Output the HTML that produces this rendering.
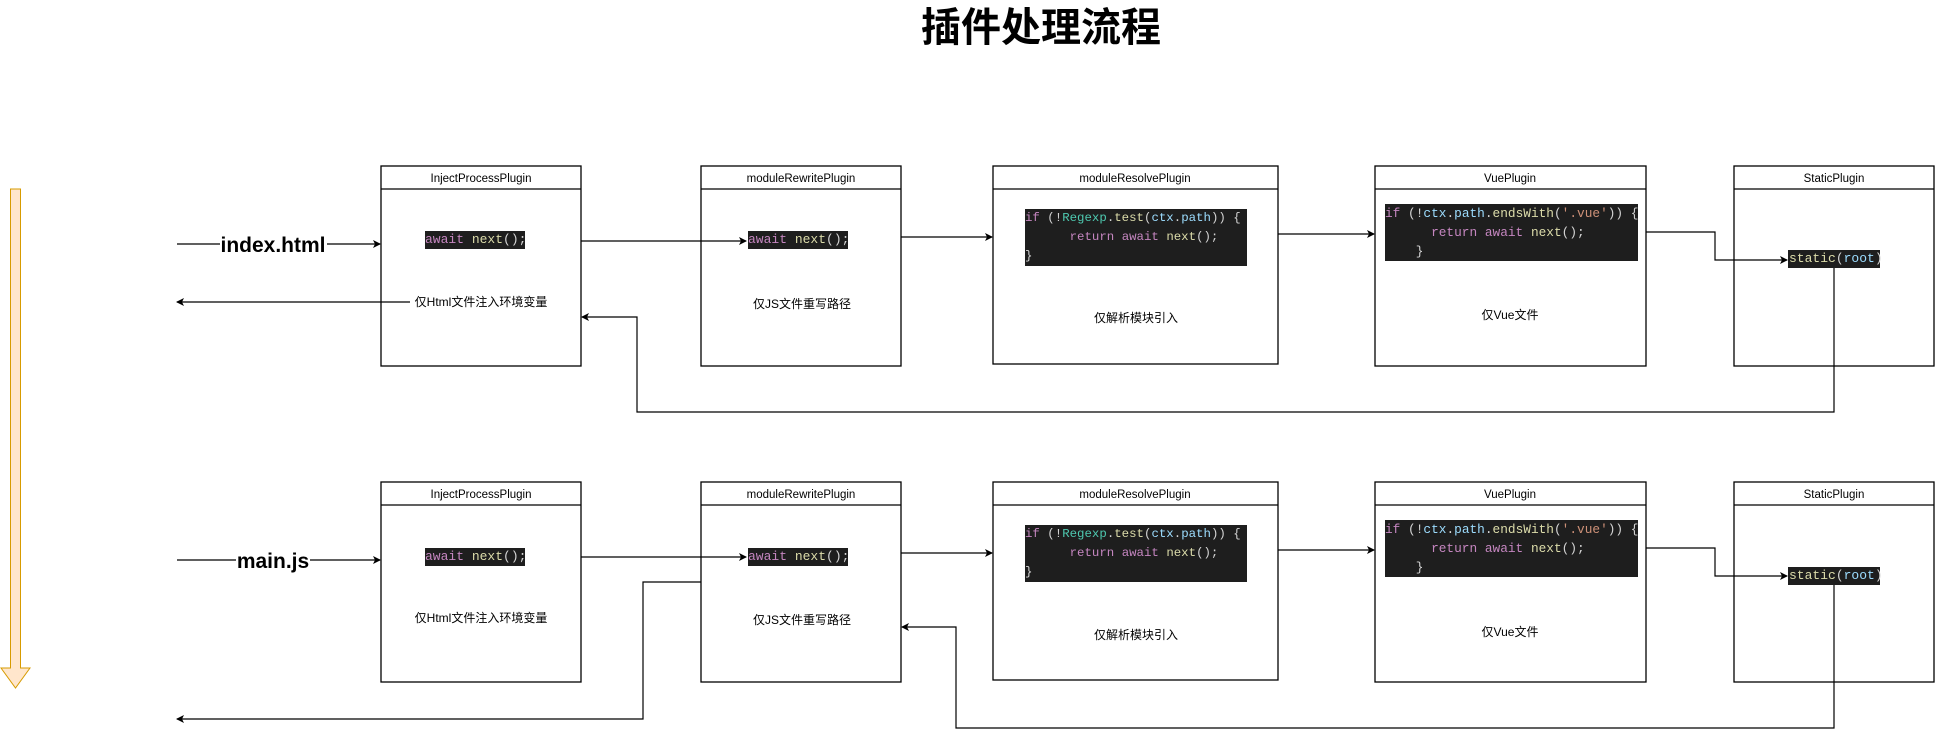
<!DOCTYPE html>
<html><head><meta charset="utf-8"><style>
body{margin:0;width:1937px;height:738px;background:#fff;position:relative;overflow:hidden;font-family:"Liberation Sans","Noto Sans CJK SC",sans-serif}
.code{position:absolute;background:#1e1e1e;color:#d4d4d4;font-family:"Liberation Mono","DejaVu Sans Mono",monospace;font-size:13px;white-space:pre;line-height:19px;box-sizing:border-box}
.k{color:#c586c0}.f{color:#dcdcaa}.v{color:#9cdcfe}.c{color:#4ec9b0}.s{color:#ce9178}
svg{position:absolute;left:0;top:0}
</style></head><body>
<svg width="1937" height="738" xmlns="http://www.w3.org/2000/svg">
<defs><marker id="a" markerWidth="8" markerHeight="8" refX="7" refY="4" orient="auto" markerUnits="userSpaceOnUse"><path d="M0,0 L8,4 L0,8 L2,4z" fill="#000"/></marker></defs>
<text x="1041" y="41" text-anchor="middle" font-size="40" font-weight="bold" font-family="Liberation Sans,Noto Sans CJK SC,sans-serif">插件处理流程</text>
<path d="M10.5,189 H20.5 V668 H30 L15.5,688 L1,668 H10.5 Z" fill="#ffe6cc" stroke="#d79b00" stroke-width="1"/>
<g fill="#fff" stroke="#000" stroke-width="1.3">
<rect x="381" y="166" width="200" height="200"/><rect x="701" y="166" width="200" height="200"/>
<rect x="993" y="166" width="285" height="198"/><rect x="1375" y="166" width="271" height="200"/>
<rect x="1734" y="166" width="200" height="200"/>
<rect x="381" y="482" width="200" height="200"/><rect x="701" y="482" width="200" height="200"/>
<rect x="993" y="482" width="285" height="198"/><rect x="1375" y="482" width="271" height="200"/>
<rect x="1734" y="482" width="200" height="200"/>
</g>
<g stroke="#000" stroke-width="1.3">
<line x1="381" y1="189" x2="581" y2="189"/><line x1="701" y1="189" x2="901" y2="189"/><line x1="993" y1="189" x2="1278" y2="189"/><line x1="1375" y1="189" x2="1646" y2="189"/><line x1="1734" y1="189" x2="1934" y2="189"/>
<line x1="381" y1="505" x2="581" y2="505"/><line x1="701" y1="505" x2="901" y2="505"/><line x1="993" y1="505" x2="1278" y2="505"/><line x1="1375" y1="505" x2="1646" y2="505"/><line x1="1734" y1="505" x2="1934" y2="505"/>
</g>
<g font-size="11.5" text-anchor="middle" font-family="Liberation Sans,sans-serif">
<text x="481" y="182">InjectProcessPlugin</text><text x="801" y="182">moduleRewritePlugin</text><text x="1135" y="182">moduleResolvePlugin</text><text x="1510" y="182">VuePlugin</text><text x="1834" y="182">StaticPlugin</text>
<text x="481" y="498">InjectProcessPlugin</text><text x="801" y="498">moduleRewritePlugin</text><text x="1135" y="498">moduleResolvePlugin</text><text x="1510" y="498">VuePlugin</text><text x="1834" y="498">StaticPlugin</text>
</g>
<g font-size="12" text-anchor="middle" font-family="Liberation Sans,Noto Sans CJK SC,sans-serif">
<text x="481" y="306" fill="#000">仅Html文件注入环境变量</text><text x="802" y="308">仅JS文件重写路径</text><text x="1136" y="322">仅解析模块引入</text><text x="1510" y="319">仅Vue文件</text>
<text x="481" y="622">仅Html文件注入环境变量</text><text x="802" y="624">仅JS文件重写路径</text><text x="1136" y="639">仅解析模块引入</text><text x="1510" y="636">仅Vue文件</text>
</g>
<g stroke="#000" stroke-width="1.2" fill="none">
<line x1="177" y1="244" x2="220" y2="244"/><line x1="327" y1="244" x2="380" y2="244" marker-end="url(#a)"/>
<line x1="410" y1="302" x2="177" y2="302" marker-end="url(#a)"/>
<line x1="581" y1="241" x2="746" y2="241" marker-end="url(#a)"/>
<line x1="901" y1="237" x2="992" y2="237" marker-end="url(#a)"/>
<line x1="1278" y1="234" x2="1374" y2="234" marker-end="url(#a)"/>
<polyline points="1646,232 1715,232 1715,260 1787,260" marker-end="url(#a)"/>
<polyline points="1834,268 1834,412 637,412 637,317 582,317" marker-end="url(#a)"/>
<line x1="177" y1="560" x2="236" y2="560"/><line x1="310" y1="560" x2="380" y2="560" marker-end="url(#a)"/>
<line x1="581" y1="557" x2="746" y2="557" marker-end="url(#a)"/>
<line x1="901" y1="553" x2="992" y2="553" marker-end="url(#a)"/>
<line x1="1278" y1="550" x2="1374" y2="550" marker-end="url(#a)"/>
<polyline points="1646,548 1715,548 1715,576 1787,576" marker-end="url(#a)"/>
<polyline points="1834,584 1834,728 956,728 956,627 902,627" marker-end="url(#a)"/>
<polyline points="701,582 643,582 643,719 177,719" marker-end="url(#a)"/>
</g>
<g font-size="21" font-weight="bold" text-anchor="middle" font-family="Liberation Sans,sans-serif">
<text x="273" y="252">index.html</text><text x="273" y="568">main.js</text>
</g>
</svg>
<div class="code" style="left:425px;top:231px;width:100px;height:18px;line-height:18px"><span class="k">await</span> <span class="f">next</span>();</div>
<div class="code" style="left:748px;top:231px;width:100px;height:18px;line-height:18px"><span class="k">await</span> <span class="f">next</span>();</div>
<div class="code" style="left:1025px;top:209px;width:222px;height:57px;font-size:12.4px"><span class="k">if</span> (!<span class="c">Regexp</span>.<span class="f">test</span>(<span class="v">ctx</span>.<span class="v">path</span>)) {
      <span class="k">return</span> <span class="k">await</span> <span class="f">next</span>();
}</div>
<div class="code" style="left:1385px;top:204px;width:253px;height:57px;font-size:12.8px"><span class="k">if</span> (!<span class="v">ctx</span>.<span class="v">path</span>.<span class="f">endsWith</span>(<span class="s">'.vue'</span>)) {
      <span class="k">return</span> <span class="k">await</span> <span class="f">next</span>();
    }</div>
<div class="code" style="left:1788px;top:250px;width:92px;height:18px;line-height:18px;padding-left:1px"><span class="f">static</span>(<span class="v">root</span>)</div>
<div class="code" style="left:425px;top:548px;width:100px;height:18px;line-height:18px"><span class="k">await</span> <span class="f">next</span>();</div>
<div class="code" style="left:748px;top:548px;width:100px;height:18px;line-height:18px"><span class="k">await</span> <span class="f">next</span>();</div>
<div class="code" style="left:1025px;top:525px;width:222px;height:57px;font-size:12.4px"><span class="k">if</span> (!<span class="c">Regexp</span>.<span class="f">test</span>(<span class="v">ctx</span>.<span class="v">path</span>)) {
      <span class="k">return</span> <span class="k">await</span> <span class="f">next</span>();
}</div>
<div class="code" style="left:1385px;top:520px;width:253px;height:57px;font-size:12.8px"><span class="k">if</span> (!<span class="v">ctx</span>.<span class="v">path</span>.<span class="f">endsWith</span>(<span class="s">'.vue'</span>)) {
      <span class="k">return</span> <span class="k">await</span> <span class="f">next</span>();
    }</div>
<div class="code" style="left:1788px;top:567px;width:92px;height:18px;line-height:18px;padding-left:1px"><span class="f">static</span>(<span class="v">root</span>)</div>
</body></html>
